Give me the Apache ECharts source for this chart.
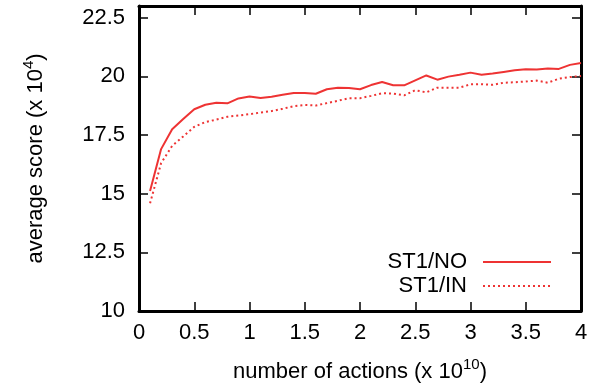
<!DOCTYPE html>
<html>
<head>
<meta charset="utf-8">
<script src="https://cdn.jsdelivr.net/npm/echarts@6/dist/echarts.min.js"></script>
<style>
html,body{margin:0;padding:0;background:#fff;}
#c{width:591px;height:391px;}
</style>
</head>
<body>
<div id="c"></div>
<script>
// x values: number of actions (x 10^10)
var actions = [0.1,0.2,0.3,0.4,0.5,0.6,0.7,0.8,0.9,1.0,
               1.1,1.2,1.3,1.4,1.5,1.6,1.7,1.8,1.9,2.0,
               2.1,2.2,2.3,2.4,2.5,2.6,2.7,2.8,2.9,3.0,
               3.1,3.2,3.3,3.4,3.5,3.6,3.7,3.8,3.9,4.0];
// average score (x 10^4)
var st1NO = [15.11,16.9,17.75,18.18,18.6,18.79,18.88,18.85,19.06,19.14,
             19.08,19.13,19.22,19.29,19.29,19.26,19.45,19.52,19.5,19.45,
             19.63,19.76,19.62,19.62,19.83,20.04,19.86,19.99,20.07,20.16,
             20.07,20.12,20.19,20.26,20.3,20.29,20.34,20.32,20.49,20.57];
var st1IN = [14.59,16.3,17.04,17.44,17.85,18.05,18.16,18.28,18.33,18.39,
             18.46,18.52,18.62,18.73,18.78,18.76,18.86,18.96,19.07,19.07,
             19.17,19.28,19.27,19.19,19.41,19.32,19.52,19.52,19.52,19.66,
             19.67,19.64,19.73,19.75,19.78,19.82,19.73,19.9,19.97,20.02];
var seriesNames = ['ST1/NO','ST1/IN'];
var xTicks = {min:0, max:4, interval:0.5};
var yTicks = {min:10, max:23, interval:2.5};

function pairs(xs, ys){ return xs.map(function(x,i){ return [x, ys[i]]; }); }

var FONT = 'Liberation Sans';
var FS = 22;
var RED = '#ee3333';
var axisLine = {show:true, onZero:false, lineStyle:{color:'#000', width:3}};
var tick = {show:true, inside:true, length:9, lineStyle:{color:'#000', width:1.5}};
var rich = {
  a:{fontFamily:FONT,fontSize:FS,color:'#000',lineHeight:26,verticalAlign:'bottom'},
  s:{fontFamily:FONT,fontSize:15,color:'#000',lineHeight:14,verticalAlign:'top'}
};

var chart = echarts.init(document.getElementById('c'), null, {renderer:'canvas'});
chart.setOption({
  animation:false,
  backgroundColor:'#fff',
  textStyle:{fontFamily:FONT},
  grid:{left:139, right:10, top:6, bottom:80, containLabel:false},
  legend:{
    orient:'vertical', right:39, top:251, align:'right', padding:0,
    itemWidth:68, itemHeight:14, itemGap:2,
    itemStyle:{opacity:0},
    textStyle:{fontFamily:FONT, fontSize:FS, color:'#000', padding:[0,11,0,0]},
    data:seriesNames
  },
  xAxis:[{
    type:'value', position:'bottom', min:xTicks.min, max:xTicks.max, interval:xTicks.interval,
    axisLine:axisLine, axisTick:tick, splitLine:{show:false},
    axisLabel:{fontFamily:FONT, fontSize:FS, color:'#000', margin:11},
    name:'{a|number of actions (x 10}{s|10}{a|)}', nameLocation:'middle', nameGap:46,
    nameTextStyle:{fontFamily:FONT, fontSize:FS, color:'#000', rich:rich}
  },{
    type:'value', position:'top', min:xTicks.min, max:xTicks.max, interval:xTicks.interval,
    axisLine:axisLine, axisTick:tick, axisLabel:{show:false}, splitLine:{show:false}
  }],
  yAxis:[{
    type:'value', position:'left', min:yTicks.min, max:yTicks.max, interval:yTicks.interval,
    axisLine:axisLine, axisTick:tick, splitLine:{show:false},
    axisLabel:{fontFamily:FONT, fontSize:FS, color:'#000', margin:14, showMaxLabel:false},
    name:'{a|average score (x 10}{s|4}{a|)}', nameLocation:'middle', nameGap:92,
    nameTextStyle:{fontFamily:FONT, fontSize:FS, color:'#000', rich:rich}
  },{
    type:'value', position:'right', min:yTicks.min, max:yTicks.max, interval:yTicks.interval,
    axisLine:axisLine, axisTick:tick, axisLabel:{show:false}, splitLine:{show:false}
  }],
  series:[{
    name:seriesNames[0], type:'line', data:pairs(actions, st1NO),
    showSymbol:false, symbol:'none', color:RED,
    lineStyle:{color:RED, width:2}
  },{
    name:seriesNames[1], type:'line', data:pairs(actions, st1IN),
    showSymbol:false, symbol:'none', color:RED,
    lineStyle:{color:RED, width:2, type:[2,3]}
  }]
});
</script>
</body>
</html>
